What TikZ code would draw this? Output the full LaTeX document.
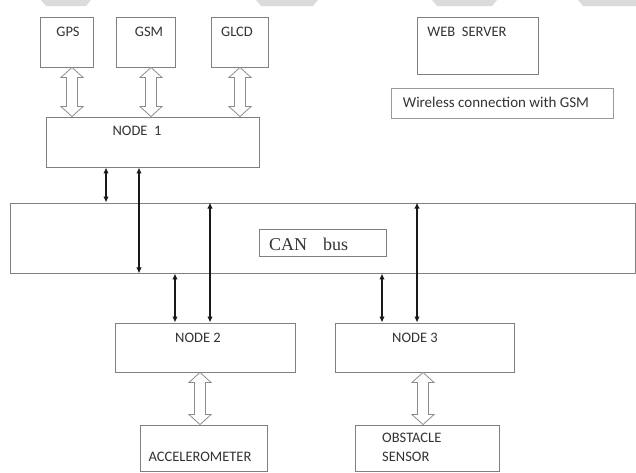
\documentclass[tikz,border=0pt]{standalone}
\usepackage{fontspec}
\setmainfont{Carlito}
\newfontfamily\tms{Liberation Serif}
\usetikzlibrary{calc,arrows.meta}
\tikzset{
  box/.style={draw=black!50, line width=0.9pt, fill=white, inner sep=0pt, rectangle},
  lbl/.style={inner sep=0pt, text=black!80, font=\fontsize{14.5}{16}\selectfont},
  hollowst/.style={draw=black!45, line width=0.8pt, fill=white, line join=miter},
  busarr/.style={{Latex[length=6pt,width=5.5pt]}-{Latex[length=6pt,width=5.5pt]}, line width=1.3pt, black!90},
  wm/.style={fill=black!14, draw=none}
}
\newcommand\harrow[3]{%
  \draw[hollowst] (#1,0 |- #2.south) coordinate (ht) -- ++(11,10) -- ++(-5.5,0)
    -- ($(#1,0 |- #3.north)+(5.5,-10)$) -- ++(5.5,0) -- (#1,0 |- #3.north)
    -- ++(-11,-10) -- ++(5.5,0) -- ($(ht)+(-5.5,10)$) -- ++(-5.5,0) -- cycle;}
\begin{document}
\begin{tikzpicture}[x=1pt,y=-1pt]
\useasboundingbox (0,0) rectangle (636,472);
% watermark fragments at the top edge
\fill[wm] (41,0) -- (91,0) -- (86,6) -- (46,6) -- cycle;
\fill[wm] (256,0) -- (318,0) -- (313,6) -- (261,6) -- cycle;
\fill[wm] (432,0) -- (497,0) -- (492,6) -- (437,6) -- cycle;
\fill[wm] (578,0) -- (636,0) -- (636,6) -- (583,6) -- cycle;

% boxes
\node[box, minimum width=53, minimum height=50] (gps) at (66.5,42) {};
\node[box, minimum width=59, minimum height=50] (gsm) at (145.5,42) {};
\node[box, minimum width=57, minimum height=50] (glcd) at (239.5,42) {};
\node[box, minimum width=213, minimum height=50] (node1) at (152.5,142) {};
\node[box, minimum width=121, minimum height=57] (web) at (477.5,45.5) {};
\node[box, draw=black!40, minimum width=222, minimum height=30] (wl) at (502,103) {};
\node[box, minimum width=625, minimum height=70] (bus) at (322.5,238) {};
\node[box, minimum width=127, minimum height=27] (can) at (322.5,242.5) {};
\node[box, minimum width=180, minimum height=49] (node2) at (205,347.5) {};
\node[box, minimum width=179, minimum height=49] (node3) at (424.5,347.5) {};
\node[box, minimum width=127, minimum height=46] (acc) at (203.5,448) {};
\node[box, minimum width=144, minimum height=46] (obs) at (427,448) {};

% labels
\node[lbl] (tgps) at (68,32) {GPS};
\node[lbl] (tgsm) at (149,32) {GSM};
\node[lbl] (tglcd) at (237,32) {GLCD};
\node[lbl] (tn1) at (137,130.5) {NODE~~1};
\node[lbl] (tweb) at (467,32) {WEB~~SERVER};
\node[lbl, font=\fontsize{15}{17}\selectfont] (twl) at (496,102) {Wireless connection with GSM};
\node[inner sep=0pt, anchor=west, text=black!80, font=\tms\fontsize{18}{20}\selectfont] (tcan) at (269,244) {CAN\hspace{16pt}bus};
\node[lbl] (tn2) at (198,338) {NODE 2};
\node[lbl] (tn3) at (415,338) {NODE 3};
\node[lbl] (tacc) at (200,457) {ACCELEROMETER};
\node[lbl, anchor=west] (tobs1) at (382,438) {OBSTACLE};
\node[lbl, anchor=west] (tobs2) at (382,457) {SENSOR};

% hollow double arrows
\harrow{72}{gps}{node1}
\harrow{151}{gsm}{node1}
\harrow{240}{glcd}{node1}
\harrow{200}{node2}{acc}
\harrow{423}{node3}{obs}

% bus connections
\draw[busarr] (106,0 |- node1.south) -- (106,0 |- bus.north);
\draw[busarr] (139,0 |- node1.south) -- (139,0 |- bus.south);
\draw[busarr] (175,0 |- bus.south) -- (175,0 |- node2.north);
\draw[busarr] (210,0 |- bus.north) -- (210,0 |- node2.north);
\draw[busarr] (382,0 |- bus.south) -- (382,0 |- node3.north);
\draw[busarr] (417,0 |- bus.north) -- (417,0 |- node3.north);
\end{tikzpicture}
\end{document}
